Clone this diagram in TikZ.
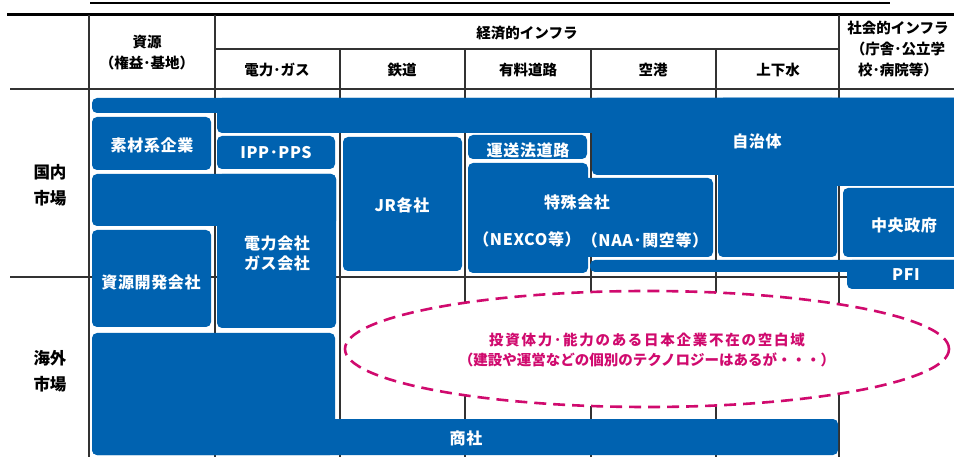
\documentclass[tikz,border=0pt]{standalone}
\usepackage{fontspec}
\setmainfont{Noto Sans CJK JP}
\definecolor{boxblue}{RGB}{0,98,176}
\definecolor{ellmag}{RGB}{208,10,110}
\definecolor{gridgray}{RGB}{50,50,50}
\begin{document}
\begin{tikzpicture}[x=1pt,y=-1pt,
  blk/.style={fill=boxblue, rounded corners=5pt},
  lbl/.style={text=white, font=\bfseries\fontsize{16}{20}\selectfont\addfontfeature{LetterSpace=4}, inner sep=0pt, align=center},
  hdr/.style={text=black, font=\bfseries\fontsize{14.5}{21}\selectfont, inner sep=0pt, align=center},
  rowl/.style={text=black, font=\bfseries\fontsize{16.5}{26}\selectfont, inner sep=0pt, align=center},
  gridl/.style={draw=gridgray, line width=1.1pt},
  gap/.style={draw=ellmag, line width=2.6pt, dash pattern=on 12pt off 7pt, fill=white},
  gaptext/.style={text=ellmag, font=\bfseries\fontsize{14.5}{20}\selectfont, inner sep=0pt, align=center}]
\path[use as bounding box] (0,0) rectangle (954,457);
\clip (0,0) rectangle (954,457);
% title underline and top rule
\draw[line width=2pt] (90,3.5) -- (890,3.5);
\draw[line width=3pt] (7,14.5) -- (954,14.5);
% grid
\draw[gridl] (89,15) -- (89,457);
\draw[gridl] (215,15) -- (215,457);
\draw[gridl] (839,15) -- (839,457);
\draw[gridl] (340,49) -- (340,457);
\draw[gridl] (465,49) -- (465,457);
\draw[gridl] (591,49) -- (591,457);
\draw[gridl] (716,49) -- (716,457);
\draw[gridl] (215,49) -- (839,49);
\draw[gridl] (10,89) -- (954,89);
\draw[gridl] (10,277) -- (954,277);
% headers
\node[hdr] (hres) at (147,53) {資源\\（権益･基地）};
\node[hdr] (hecon) at (527,33) {経済的インフラ};
\node[hdr] (hpow) at (277,70) {電力･ガス};
\node[hdr] (hrail) at (402,70) {鉄道};
\node[hdr] (hroad) at (528,70) {有料道路};
\node[hdr] (hair) at (653,70) {空港};
\node[hdr] (hwat) at (778,70) {上下水};
\node[hdr] (hsoc) at (898,49) {社会的インフラ\\（庁舎･公立学\\校･病院等）};
\node[rowl] (rdom) at (50,185) {国内\\市場};
\node[rowl] (rfor) at (50,371) {海外\\市場};
% 自治体
\fill[blk] (92,98) rectangle (960,113);
\fill[blk] (217,98) rectangle (960,133);
\fill[blk] (592,98) rectangle (960,175);
\fill[blk] (718,98) rectangle (837,257);
\fill[blk] (718,98) rectangle (960,186);
% 素材系企業
\fill[blk] (92,117) rectangle (211,170);
% IPP・PPS
\fill[blk] (217,136) rectangle (335,169);
% 電力会社・ガス会社
\fill[blk] (92,174) rectangle (336,226);
\fill[blk] (217,174) rectangle (336,328);
% 資源開発会社
\fill[blk] (92,230) rectangle (211,327);
% JR各社
\fill[blk] (343,137) rectangle (462,271);
% 運送法道路
\fill[blk] (468,135) rectangle (587,159);
% 特殊会社
\fill[blk] (468,163) rectangle (588,273);
\fill[blk] (578,178) rectangle (713,257);
% PFI
\fill[blk] (590,260) rectangle (960,272);
\fill[blk] (847,260) rectangle (960,289);
% 中央政府
\fill[blk] (843,188) rectangle (960,257);
% 商社
\fill[blk] (92,333) rectangle (335,455);
\fill[blk] (92,419) rectangle (838,455);
% labels
\node[lbl] (jichi) at (757,141) {自治体};
\node[lbl] (sozai) at (152,145) {素材系企業};
\node[lbl] (ipp) at (276,153) {IPP･PPS};
\node[lbl] (denryoku) at (277,253) {電力会社\\ガス会社};
\node[lbl] (shigen) at (151,282) {資源開発会社};
\node[lbl] (jr) at (402,205) {JR各社};
\node[lbl] (unso) at (528,150) {運送法道路};
\node[lbl] (tokushu) at (577,202) {特殊会社};
\node[lbl] (nexco) at (527,239) {（NEXCO等）};
\node[lbl] (naa) at (645,240) {（NAA･関空等）};
\node[lbl] (chuo) at (904,225) {中央政府};
\node[lbl] (pfi) at (906,275) {PFI};
\node[lbl] (shosha) at (466,438) {商社};
% gap ellipse
\draw[gap] (647,349) ellipse [x radius=302pt, y radius=58pt];
\node[gaptext] (gaptxt1) at (647,340) {\addfontfeature{LetterSpace=12}投資体力･能力のある日本企業不在の空白域};
\node[gaptext] (gaptxt2) at (647,360) {（建設や運営などの個別のテクノロジーはあるが・・・）};
\end{tikzpicture}
\end{document}
